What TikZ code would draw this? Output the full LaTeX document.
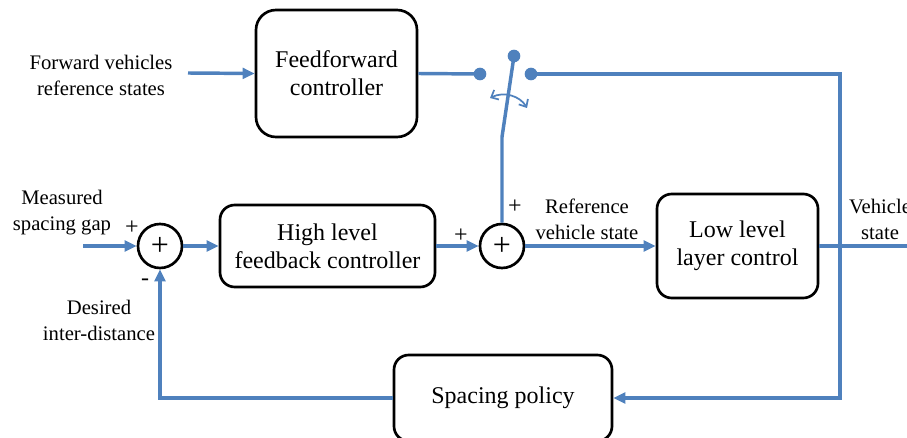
\documentclass[tikz,border=0pt]{standalone}
\usepackage{fontspec}
\setmainfont{Liberation Serif}
\usetikzlibrary{arrows.meta}
\definecolor{linkblue}{RGB}{79,129,189}

\tikzset{
  block/.style={draw, line width=2pt, rounded corners=11pt, align=center},
  sumnode/.style={draw, circle, line width=2pt, minimum size=33pt, inner sep=0pt, font=\fontsize{24}{24}\selectfont},
  label/.style={align=center, inner sep=0pt, font=\fontsize{15.5}{19.5}\selectfont},
  sign/.style={inner sep=0pt, font=\fontsize{18}{18}\selectfont},
  link/.style={draw=linkblue, line width=2.6pt},
  arr/.style={link, -{Triangle[length=9pt,width=8pt]}},
  dot/.style={circle, fill=linkblue, minimum size=9.5pt, inner sep=0pt},
}

\begin{document}
\begin{tikzpicture}[x=0.75pt, y=-0.75pt, font=\fontsize{18}{21}\selectfont]
        \useasboundingbox (0,0) rectangle (907,438);
        % blocks
        \node[block, rounded corners=15pt, minimum width=120.75pt, minimum height=95.25pt] (ff) at (336.5,73.5) {Feedforward\\controller};
        \node[block, minimum width=161.25pt, minimum height=61.5pt] (hl) at (327.5,246) {High level\\feedback controller};
        \node[block, minimum width=120.75pt, minimum height=78pt] (ll) at (737.5,246) {Low level\\layer control};
        \node[block, minimum width=163.5pt, minimum height=64.5pt] (sp) at (503,398) {Spacing policy};
        \node[sumnode] (sum1) at (160,246) {+};
        \node[sumnode] (sum2) at (502,246) {+};

        % labels
        \node[label] (fwd) at (101,75) {Forward vehicles\\reference states};
        \node[label] (meas) at (62,213) {Measured\\spacing gap};
        \node[label] (des) at (99,320) {Desired\\inter-distance};
        \node[label] (refst) at (587,219) {Reference\\vehicle state};
        \node[label] (vst) at (880,219) {Vehicle\\state};
        \node[sign] (p1) at (132,228) {+};
        \node[sign] (m1) at (145,282) {-};
        \node[sign] (p2) at (461,236) {+};
        \node[sign] (p3) at (515,207) {+};

        % switch
        \node[dot] (swl) at (480,74) {};
        \node[dot] (swr) at (531,74) {};
        \node[dot] (swt) at (514,56) {};
        \coordinate (swk) at (502,137);

        % free ends
        \coordinate (fwdin) at (188,73);
        \coordinate (measin) at (83,246);
        \coordinate (vtap) at (840,246);
        \coordinate (vout) at (907,246);

        % connectors
        \draw[arr] (fwdin) -- (ff.west);
        \draw[link] (ff.east) -- (swl.center);
        \draw[link] (swt.center) -- (swk) -- (sum2.north);
        \draw[draw=linkblue, line width=1.3pt, {Straight Barb[length=4.5pt,width=8pt]}-{Straight Barb[length=4.5pt,width=8pt]}] (490,98) .. controls (504,91) and (520,96) .. (527,108);
        \draw[arr] (swr.center) -| (vtap) |- (sp.east);
        \draw[link] (ll.east) -- (vout);
        \draw[arr] (measin) -- (sum1.west);
        \draw[arr] (sum1.east) -- (hl.west);
        \draw[arr] (hl.east) -- (sum2.west);
        \draw[arr] (sum2.east) -- (ll.west);
        \draw[arr] (sp.west) -| (sum1.south);
    \end{tikzpicture}
\end{document}
